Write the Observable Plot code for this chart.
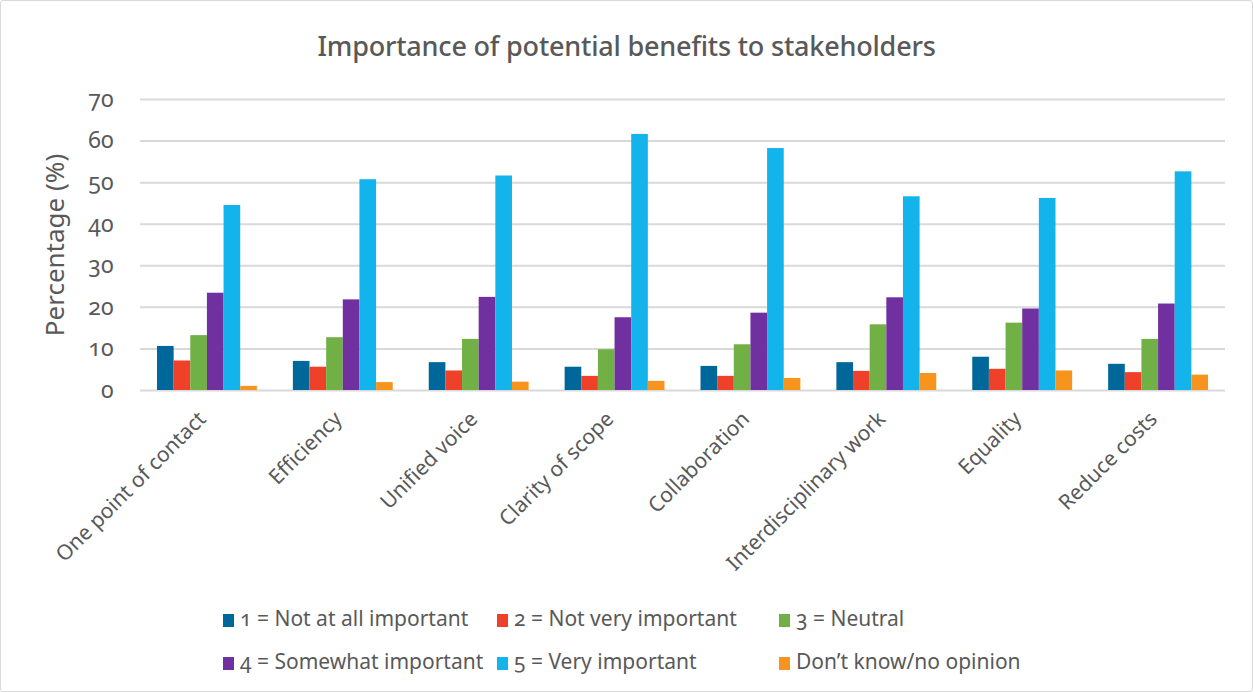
<!DOCTYPE html>
<html>
<head>
<meta charset="utf-8">
<script src="https://cdn.jsdelivr.net/npm/d3@7"></script>
<script src="https://cdn.jsdelivr.net/npm/@observablehq/plot@0.6"></script>
<style>
  html, body { margin: 0; padding: 0; background: #fff; }
  body { width: 1253px; height: 692px; position: relative; overflow: hidden; font-family: "Noto Sans", "Open Sans", sans-serif; color: #595959; }
  #frame { position: absolute; left: 0; top: 0; width: 1251px; height: 690px; border: 1px solid #d9d9d9; border-radius: 3px; pointer-events: none; }
  #title { position: absolute; top: 30px; left: 0; width: 1253px; text-align: center; font-size: 27px; font-weight: 500; line-height: 32px; letter-spacing: -0.2px; color: #595959; }
  .layer { position: absolute; top: 60px; left: 0; }
  .layer svg { font-variant-numeric: oldstyle-nums; font-feature-settings: "onum" 1; }
  .leg { position: absolute; font-size: 21px; line-height: 26px; white-space: nowrap; font-feature-settings: "onum" 1; color: #595959; }
  .sw { display: inline-block; width: 11px; height: 13px; margin-right: 6px; vertical-align: -1px; }
</style>
</head>
<body>
<div id="title">Importance of potential benefits to stakeholders</div>
<div id="grid" class="layer"></div>
<div id="chart" class="layer"></div>
<div id="legendBox"></div>
<div id="frame"></div>
<script>
const categories = ["One point of contact", "Efficiency", "Unified voice", "Clarity of scope", "Collaboration", "Interdisciplinary work", "Equality", "Reduce costs"];
const seriesNames = ["1 = Not at all important", "2 = Not very important", "3 = Neutral", "4 = Somewhat important", "5 = Very important", "Don’t know/no opinion"];
const seriesColors = ["#00679a", "#ef4129", "#71b045", "#7030a0", "#13b3ec", "#f7941e"];
const notAtAll    = [10.6, 7.0, 6.7, 5.6, 5.8, 6.7, 8.0, 6.3];
const notVery     = [7.1, 5.6, 4.7, 3.4, 3.4, 4.6, 5.1, 4.3];
const neutral     = [13.2, 12.7, 12.3, 9.8, 11.0, 15.8, 16.2, 12.3];
const somewhat    = [23.4, 21.8, 22.4, 17.5, 18.6, 22.3, 19.6, 20.8];
const very        = [44.5, 50.7, 51.6, 61.6, 58.2, 46.6, 46.2, 52.6];
const dontKnow    = [1.0, 1.9, 2.0, 2.2, 2.9, 4.1, 4.7, 3.7];
const yTicks = [0, 10, 20, 30, 40, 50, 60, 70];

const seriesValues = [notAtAll, notVery, neutral, somewhat, very, dontKnow];
const data = [];
categories.forEach((c, i) => {
  seriesNames.forEach((s, j) => {
    data.push({category: c, series: s, value: seriesValues[j][i]});
  });
});

const common = {
  width: 1253,
  height: 535,
  marginLeft: 140,
  marginRight: 28,
  marginTop: 39,
  marginBottom: 205,
  style: {fontFamily: "'Noto Sans', 'Open Sans', sans-serif", color: "#595959", background: "transparent"},
  y: {domain: [0, 70], label: null}
};

// Background layer: continuous gridlines and y axis
const grid = Plot.plot({
  ...common,
  marks: [
    Plot.ruleY(yTicks, {stroke: "#d9d9d9", strokeWidth: 2}),
    Plot.axisY({ticks: yTicks, tickSize: 0, tickPadding: 27, fontSize: 23, label: "Percentage (%)", labelAnchor: "center", labelOffset: 95, labelArrow: "none"})
  ]
});
document.getElementById("grid").appendChild(grid);
grid.querySelectorAll("g[aria-label='y-axis label']").forEach(el => el.setAttribute("font-size", 26));

// Foreground layer: grouped bars
const chart = Plot.plot({
  ...common,
  fx: {domain: categories, paddingInner: 0.265, paddingOuter: 0.125, round: false, label: null},
  x: {domain: seriesNames, padding: 0, round: false, axis: null},
  y: {domain: [0, 70], axis: null},
  color: {domain: seriesNames, range: seriesColors},
  marks: [
    Plot.barY(data, {fx: "category", x: "series", y: "value", fill: "series"}),
    Plot.axisFx({anchor: "bottom", tickRotate: -45, tickSize: 0, tickPadding: 20, fontSize: 21, dx: -5, dy: 5, label: null})
  ]
});
document.getElementById("chart").appendChild(chart);

const legendLeft = [223, 497, 779];
const legendTop = [605, 648];
const legendBox = document.getElementById("legendBox");
seriesNames.forEach((s, j) => {
  const d = document.createElement("div");
  d.className = "leg";
  d.style.left = legendLeft[j % 3] + "px";
  d.style.top = legendTop[Math.floor(j / 3)] + "px";
  const sw = document.createElement("span");
  sw.className = "sw";
  sw.style.background = seriesColors[j];
  d.appendChild(sw);
  d.appendChild(document.createTextNode(s));
  legendBox.appendChild(d);
});
</script>
</body>
</html>
